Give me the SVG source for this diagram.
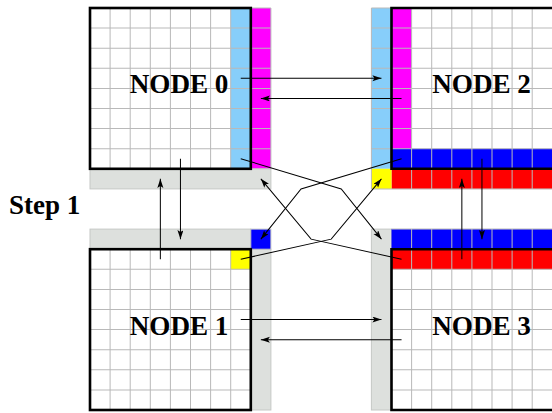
<svg xmlns="http://www.w3.org/2000/svg" width="552" height="413" viewBox="0 0 552 413">
<style>
.bg{fill:#ffffff}
.lb{fill:#87cefa}
.mg{fill:#ff00ff}
.bl{fill:#0000ff}
.rd{fill:#ff0000}
.ye{fill:#ffff00}
.gs{fill:#dde0dd;stroke:#c6c8c6;stroke-width:1}
.grid{fill:none;stroke:#b9b9b9;stroke-width:1}
.bd{fill:none;stroke:#000;stroke-width:2.6;stroke-linejoin:miter}
.lbl{font-family:"Liberation Serif","Times New Roman",serif;font-weight:bold;font-size:27px;fill:#000}
.cn{fill:none;stroke:#000;stroke-width:1}
</style>
<defs>
<marker id="ah" markerUnits="userSpaceOnUse" markerWidth="10" markerHeight="7" refX="9" refY="3" orient="auto">
<path d="M0,0 L9,3 L0,6 L2,3 z" fill="#000"/>
</marker>
</defs>
<rect x="0" y="0" width="552" height="413" fill="#ffffff"/>
<g transform="translate(90,8) scale(1.005)">
<g id="node0">
<rect class="bg" x="0" y="0" width="160" height="160"/>
<rect class="lb" x="140" y="0" width="20" height="160"/>
<rect class="mg" x="160" y="0" width="20" height="160"/>
<rect class="gs" x="0" y="160" width="180" height="20"/>
<path class="grid" d="M20 0V160M40 0V160M60 0V160M80 0V160M100 0V160M120 0V160M140 0V160M180 0V160M0 20H180M0 40H180M0 60H180M0 80H180M0 100H180M0 120H180M0 140H180M160 0H180"/>
<rect class="bd" x="0" y="0" width="160" height="160"/>
<text class="lbl" x="39.5" y="85">NODE 0</text>
</g>
<g id="node2">
<rect class="bg" x="300" y="0" width="160" height="160"/>
<rect class="lb" x="280" y="0" width="20" height="160"/>
<rect class="mg" x="300" y="0" width="20" height="140"/>
<rect class="bl" x="300" y="140" width="160" height="20"/>
<rect class="rd" x="300" y="160" width="160" height="20"/>
<rect class="ye" x="280" y="160" width="20" height="20"/>
<path class="grid" d="M280 0V180M320 0V180M340 0V180M360 0V180M380 0V180M400 0V180M420 0V180M440 0V180M280 0H300M280 20H460M280 40H460M280 60H460M280 80H460M280 100H460M280 120H460M280 140H460M280 180H460"/>
<path class="bd" d="M462 0H300V160H462"/>
<text class="lbl" x="340.5" y="85">NODE 2</text>
</g>
<g id="node1">
<rect class="bg" x="0" y="240" width="160" height="160"/>
<rect class="gs" x="0" y="220" width="160" height="20"/>
<rect class="gs" x="160" y="240" width="20" height="160"/>
<rect class="bl" x="160" y="220" width="20" height="20" stroke="#c6c8c6" stroke-width="1"/>
<rect class="ye" x="140" y="240" width="20" height="20"/>
<path class="grid" d="M20 240V400M40 240V400M60 240V400M80 240V400M100 240V400M120 240V400M140 240V400M0 260H160M0 280H160M0 300H160M0 320H160M0 340H160M0 360H160M0 380H160"/>
<rect class="bd" x="0" y="240" width="160" height="160"/>
<text class="lbl" x="39.5" y="325">NODE 1</text>
</g>
<g id="node3">
<rect class="bg" x="300" y="240" width="160" height="160"/>
<rect class="gs" x="280" y="220" width="20" height="180"/>
<rect class="bl" x="300" y="220" width="160" height="20"/>
<rect class="rd" x="300" y="240" width="160" height="20"/>
<path class="grid" d="M320 220V400M340 220V400M360 220V400M380 220V400M400 220V400M420 220V400M440 220V400M300 220H460M300 260H460M300 280H460M300 300H460M300 320H460M300 340H460M300 360H460M300 380H460"/>
<path class="bd" d="M462 240H300V400H462"/>
<text class="lbl" x="340.5" y="325">NODE 3</text>
</g>
<g id="connectors" class="cn" marker-end="url(#ah)">
<path d="M150 70H290"/>
<path d="M310 90H170"/>
<path d="M150 310H290"/>
<path d="M310 330H170"/>
<path d="M90 150V230"/>
<path d="M70 250V170"/>
<path d="M390 150V230"/>
<path d="M370 250V170"/>
<path d="M150 150L250 180L290 230"/>
<path d="M310 150L210 180L170 230"/>
<path d="M150 250L240 230L290 170"/>
<path d="M310 250L220 230L170 170"/>
</g>
</g>
<text class="lbl" x="9" y="214">Step 1</text>
</svg>
